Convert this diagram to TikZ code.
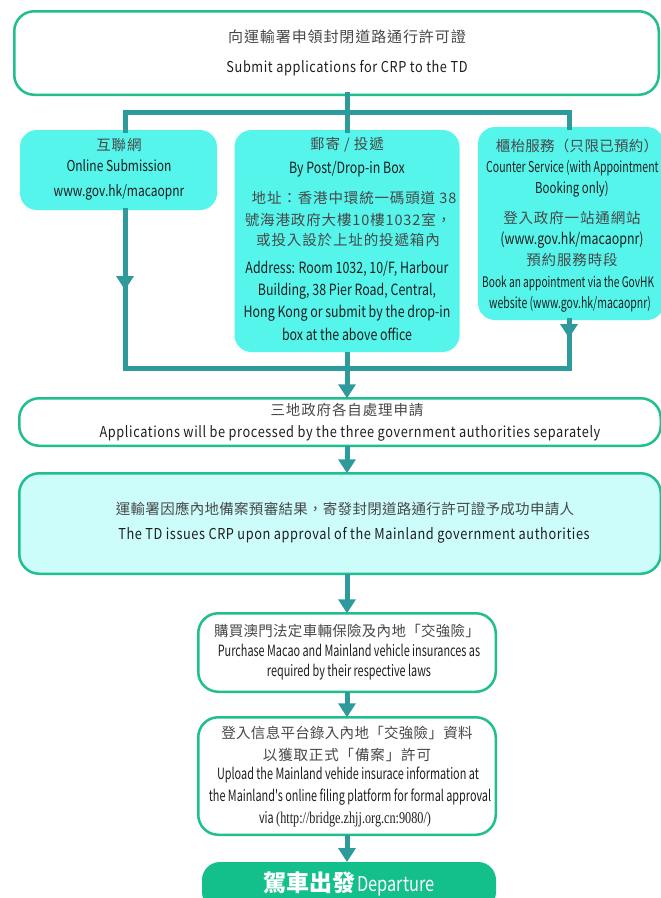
\documentclass[tikz,border=0pt]{standalone}
\usepackage{fontspec}
\setmainfont{Noto Sans CJK TC}
\newfontfamily\zhf[LetterSpace=6]{Noto Sans CJK TC}
\newfontfamily\zhn[LetterSpace=2]{Noto Sans CJK TC}
\newfontfamily\enf[FakeStretch=0.85,LetterSpace=4]{Noto Sans CJK TC}
\newfontfamily\enc[FakeStretch=0.8]{Noto Sans CJK TC}
\newfontfamily\enn[FakeStretch=0.76]{Noto Sans CJK TC}
\newfontfamily\ent[FakeStretch=0.7]{Noto Sans CJK TC}
\newfontfamily\urlf[FakeStretch=0.74]{Liberation Serif}
\usetikzlibrary{arrows.meta,decorations.markings}
\definecolor{bord}{HTML}{1FBF8F}
\definecolor{conncol}{HTML}{2F9A9B}
\definecolor{cyanf}{HTML}{55F5EC}
\definecolor{lightf}{HTML}{CCFDFB}
\definecolor{departf}{HTML}{13BF8B}
\definecolor{zhtext}{HTML}{484848}
\definecolor{entext}{HTML}{1E1E1E}
\tikzset{
  conn/.style={line width=5pt, draw=conncol, line cap=rect, line join=miter},
  tip/.style={-{Triangle[width=17pt,length=14pt]}},
  midtip/.style={postaction={decorate}, decoration={markings, mark=at position #1 with {\arrow{Triangle[width=17pt,length=14pt]}}}},
  wbox/.style={draw=bord, line width=2.5pt, fill=white, rounded corners=20pt, inner sep=0pt, outer sep=0pt},
  lbox/.style={draw=bord, line width=2.5pt, fill=lightf, rounded corners=20pt, inner sep=0pt, outer sep=0pt},
  cbox/.style={fill=cyanf, rounded corners=17pt, inner sep=0pt, outer sep=0pt},
  dbox/.style={fill=departf, rounded corners=18pt, inner sep=0pt, outer sep=0pt},
  zh/.style={inner sep=0pt, text=zhtext, font=\zhf\fontsize{14.5}{16}\selectfont},
  zhn/.style={inner sep=0pt, text=zhtext, font=\zhn\fontsize{14.5}{16}\selectfont},
  en/.style={inner sep=0pt, text=entext, font=\enf\fontsize{15}{17}\selectfont},
  enc/.style={inner sep=0pt, text=entext, font=\enc\fontsize{15.5}{17}\selectfont},
  enn/.style={inner sep=0pt, text=entext, font=\enn\fontsize{15}{17}\selectfont},
  ent/.style={inner sep=0pt, text=entext, font=\ent\fontsize{15.5}{17}\selectfont},
}
\begin{document}
\begin{tikzpicture}[x=1pt,y=-1pt]
\clip (0,0) rectangle (661,898);
\fill[white] (0,0) rectangle (661,898);
% boxes
\node[wbox, minimum width=644.5pt, minimum height=83.5pt] (top) at (336.5,53) {};
\node[cbox, minimum width=197pt, minimum height=80pt] (online) at (118.5,170) {};
\node[cbox, minimum width=225pt, minimum height=222pt] (post) at (347,241) {};
\node[cbox, minimum width=186pt, minimum height=193pt] (counter) at (571,223.5) {};
\node[wbox, minimum width=641.5pt, minimum height=47.5pt] (proc) at (340,422) {};
\node[lbox, minimum width=641.5pt, minimum height=100.5pt] (issue) at (340,523.5) {};
\node[wbox, minimum width=297.5pt, minimum height=78.5pt] (buy) at (347,652.5) {};
\node[wbox, minimum width=297.5pt, minimum height=117.5pt] (upload) at (347,776) {};
\node[dbox, minimum width=294pt, minimum height=48pt] (depart) at (349,886) {};
% connector coordinates
\coordinate (tL) at (125,112);
\coordinate (tR) at (569,112);
\coordinate (jL) at (125,368);
\coordinate (jR) at (569,368);
% connectors
\draw[conn] (top.south -| post.north) -- (post.north);
\draw[conn] (online.north -| tL) -- (tL) -- (tR) -- (counter.north -| tR);
\draw[conn, midtip=80pt] (online.south -| jL) -- (jL) -- (jR);
\draw[conn, midtip=18pt] (counter.south -| jR) -- (jR);
\draw[conn, tip, line cap=butt] (post.south) -- (proc.north -| post.south);
\draw[conn, tip, line cap=butt] (proc.south -| post.south) -- (issue.north -| post.south);
\draw[conn, tip, line cap=butt] (issue.south -| buy.north) -- (buy.north);
\draw[conn, tip, line cap=butt] (buy.south) -- (upload.north);
\draw[conn, tip, line cap=butt] (upload.south) -- (depart.north -| upload.south);
% texts: top
\node[zh, font=\zhf\fontsize{15}{16}\selectfont] (t1) at (347,37) {向運輸署申領封閉道路通行許可證};
\node[en] (t2) at (347,68) {Submit applications for CRP to the TD};
% online
\node[zh] (o1) at (119,145) {互聯網};
\node[enc, font=\enc\fontsize{15}{17}\selectfont] (o2) at (119,166) {Online Submission};
\node[enc, font=\enc\fontsize{15}{17}\selectfont] (o3) at (119,192) {www.gov.hk/macaopnr};
% post
\node[zh] (p1) at (347,145) {郵寄 / 投遞};
\node[enc] (p2) at (347,169) {By Post/Drop-in Box};
\node[zh] (p3) at (354,198) {地址：香港中環統一碼頭道 38};
\node[zh] (p4) at (348,220) {號海港政府大樓10樓1032室，};
\node[zh] (p5) at (348,240) {或投入設於上址的投遞箱內};
\node[enc] (p6) at (347,269) {Address: Room 1032, 10/F, Harbour};
\node[enc] (p7) at (347,291) {Building, 38 Pier Road, Central,};
\node[enc] (p8) at (347,313) {Hong Kong or submit by the drop-in};
\node[enc] (p9) at (347,334) {box at the above office};
% counter
\node[zhn] (c1) at (577,146) {櫃枱服務（只限已預約）};
\node[ent, anchor=west, font=\ent\fontsize{15}{17}\selectfont] (c2) at (486,168) {Counter Service (with Appointment};
\node[enn] (c3) at (572,189) {Booking only)};
\node[zh] (c4) at (572,218) {登入政府一站通網站};
\node[enc] (c5) at (572,240) {(www.gov.hk/macaopnr)};
\node[zh] (c6) at (572,260) {預約服務時段};
\node[ent, anchor=west, font=\ent\fontsize{14.5}{17}\selectfont] (c7) at (482,283) {Book an appointment via the GovHK};
\node[ent, anchor=west, font=\ent\fontsize{15}{17}\selectfont] (c8) at (489,304) {website (www.gov.hk/macaopnr)};
% proc
\node[zh] (r1) at (347,410) {三地政府各自處理申請};
\node[en] (r2) at (350,433) {Applications will be processed by the three government authorities separately};
% issue
\node[zhn] (i1) at (345,509) {運輸署因應內地備案預審結果，寄發封閉道路通行許可證予成功申請人};
\node[en] (i2) at (354,535) {The TD issues CRP upon approval of the Mainland government authorities};
% buy
\node[zhn] (b1) at (347,631) {購買澳門法定車輛保險及內地「交強險」};
\node[ent, font=\ent\fontsize{15.5}{17}\selectfont] (b2) at (349,650) {Purchase Macao and Mainland vehicle insurances as};
\node[ent, font=\ent\fontsize{15.5}{17}\selectfont] (b3) at (349,672) {required by their respective laws};
% upload
\node[zhn] (u1) at (347,733) {登入信息平台錄入內地「交強險」資料};
\node[zh] (u2) at (347,755) {以獲取正式「備案」許可};
\node[ent] (u3) at (348,775) {Upload the Mainland vehide insurace information at};
\node[ent] (u4) at (350,797) {the Mainland's online filing platform for formal approval};
\node[ent] (u5) at (345,819) {via {\urlf\fontsize{16.5}{18}\selectfont(http://bridge.zhjj.org.cn:9080/)}};
% depart
\node[inner sep=0pt, text=white] (d1) at (349,884) {{\fontsize{23}{25}\selectfont\bfseries 駕車出發} {\enc\fontsize{20.5}{22}\selectfont Departure}};
\end{tikzpicture}
\end{document}
